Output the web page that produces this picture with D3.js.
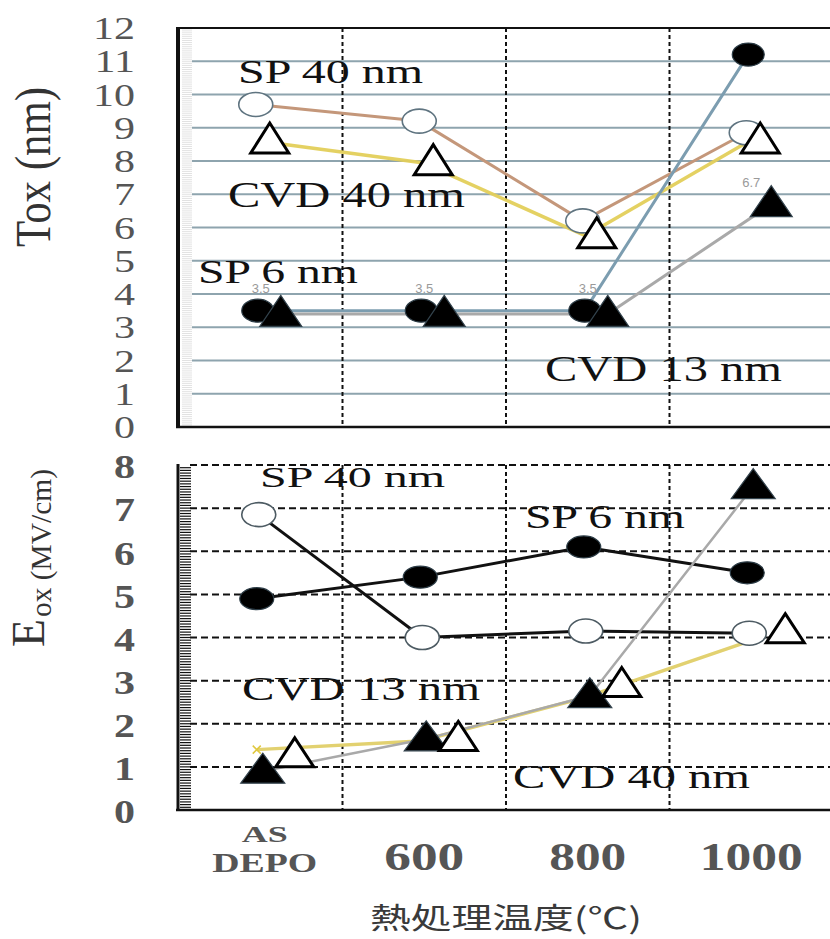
<!DOCTYPE html>
<html><head><meta charset="utf-8">
<script src="https://cdn.jsdelivr.net/npm/d3@7"></script>
<style>html,body{margin:0;padding:0;background:#fff}</style>
</head><body>
<svg id="c" width="830" height="939"></svg>
<script>
// ---------- data ----------
const categories = ["AS DEPO", "600", "800", "1000"];
const xTickLines = [["AS", "DEPO"], ["600"], ["800"], ["1000"]];
const toxTicks = d3.range(0, 13);
const eoxTicks = d3.range(0, 9);

// Tox (nm) – upper panel
const toxSP40  = [9.7, 9.2, 6.2, 8.85];
const toxCVD40 = [8.6, 7.95, 5.75, 8.6];
const toxSP6   = [3.5, 3.5, 3.5, 11.2];
const toxCVD13 = [3.4, 3.4, 3.4, 6.7];
const toxSP6Labels   = ["3.5", "3.5", "3.5", ""];
const toxCVD13Labels = ["", "", "", "6.7"];

// Eox (MV/cm) – lower panel
const eoxSP40  = [6.85, 4.0, 4.15, 4.1];
const eoxSP6   = [4.9, 5.4, 6.1, 5.5];
const eoxCVD13 = [0.9, 1.65, 2.65, 7.5];
const eoxCVD40 = [1.27, 1.65, 2.9, 4.15];
const eoxCVD40Line = [1.4, 1.6, 2.6, 3.9];

// ---------- layout ----------
const svg = d3.select("#c");
const SERIF = "'Liberation Serif','DejaVu Serif',serif";
const SANS = "'Liberation Sans','DejaVu Sans',sans-serif";
const CJK = "'Noto Sans CJK JP','Noto Sans CJK SC',sans-serif";
const L = 179, R = 833, gridL = 192;

const x = d3.scaleBand().domain(categories).range([L, R]).padding(0);
const cx = (c, dx) => x(c) + x.bandwidth() / 2 + (dx || 0);
const yT = d3.scaleLinear().domain([0, 12]).range([427, 28]);
const yB = d3.scaleLinear().domain([0, 8]).range([810, 465]);

// ---------- helpers ----------
function ellipseMarks(g, vals, y, dx, fill, stroke, rx, ry, sw) {
  g.selectAll(null).data(vals).join("ellipse")
    .attr("cx", (d, i) => cx(categories[i], dx)).attr("cy", d => y(d))
    .attr("rx", rx).attr("ry", ry)
    .attr("fill", fill).attr("stroke", stroke).attr("stroke-width", sw);
}
function triMarks(g, vals, y, dx, fill, stroke, w, h, sw) {
  g.selectAll(null).data(vals).join("path")
    .attr("d", (d, i) => {
      const px = cx(categories[i], dx), py = y(d);
      return `M${px},${py - h * 0.6}L${px + w / 2},${py + h * 0.4}L${px - w / 2},${py + h * 0.4}Z`;
    })
    .attr("fill", fill).attr("stroke", stroke).attr("stroke-width", sw).attr("stroke-linejoin", "miter");
}
function seriesLine(g, vals, y, dx, color, w, op) {
  g.append("path").datum(vals)
    .attr("d", d3.line().x((d, i) => cx(categories[i], dx)).y(d => y(d)))
    .attr("fill", "none").attr("stroke", color).attr("stroke-width", w)
    .attr("stroke-opacity", op || 1).attr("stroke-linejoin", "round");
}
function stretched(g, t, px, py, size, len, opt) {
  opt = opt || {};
  return g.append("text").attr("x", px).attr("y", py)
    .attr("font-family", opt.family || SERIF).attr("font-size", size)
    .attr("font-weight", opt.weight || "normal")
    .attr("fill", opt.fill || "#111")
    .attr("text-anchor", opt.anchor || "start")
    .attr("textLength", len).attr("lengthAdjust", opt.adjust || "spacingAndGlyphs")
    .text(t);
}

// ================= TOP PANEL =================
const gTop = svg.append("g");
gTop.append("g").selectAll("line").data(d3.range(0, 12, 0.0625)).join("line")
  .attr("x1", 182).attr("x2", 192).attr("y1", d => yT(d)).attr("y2", d => yT(d))
  .attr("stroke", "#e2e2e2").attr("stroke-width", 1);
gTop.append("g").selectAll("line").data(toxTicks.filter(d => d > 0 && d < 12)).join("line")
  .attr("x1", gridL).attr("x2", R).attr("y1", d => yT(d)).attr("y2", d => yT(d))
  .attr("stroke", "#8ea4ae").attr("stroke-width", 2);
gTop.append("g").selectAll("line").data(categories.slice(1)).join("line")
  .attr("x1", d => x(d)).attr("x2", d => x(d)).attr("y1", yT(12)).attr("y2", yT(0))
  .attr("stroke", "#111").attr("stroke-width", 2).attr("stroke-dasharray", "4,3");
gTop.append("line").attr("x1", L - 3).attr("x2", R).attr("y1", yT(12)).attr("y2", yT(12)).attr("stroke", "#111").attr("stroke-width", 2);
gTop.append("line").attr("x1", L - 3).attr("x2", R).attr("y1", yT(0)).attr("y2", yT(0)).attr("stroke", "#111").attr("stroke-width", 2.5);
gTop.append("line").attr("x1", L - 1).attr("x2", L - 1).attr("y1", yT(12) - 1).attr("y2", yT(0) + 1).attr("stroke", "#111").attr("stroke-width", 4);

const axT = svg.append("g").attr("transform", "translate(135,0)")
  .call(d3.axisLeft(yT).tickValues(toxTicks).tickSize(0).tickPadding(0));
axT.select(".domain").remove();
axT.selectAll("text").attr("font-family", SERIF).attr("font-size", 40).attr("fill", "#555")
  .attr("dy", "0.33em").attr("transform", "scale(1.05,0.8)");

seriesLine(gTop, toxSP40, yT, -5, "#c4977a", 3);
seriesLine(gTop, toxCVD40, yT, -2, "#e3cf5a", 3.5, 0.95);
seriesLine(gTop, toxSP6, yT, -3, "#7c9db0", 3);
seriesLine(gTop, toxCVD13, yT, 20, "#a9a9a9", 3);
ellipseMarks(gTop, toxSP40, yT, -5, "#fff", "#5f7480", 17, 12, 1.6);
triMarks(gTop, toxCVD40, yT, 9, "#fff", "#000", 38, 30, 3);
ellipseMarks(gTop, toxSP6, yT, -3, "#000", "#2c3c46", 16, 11.5, 1.2);
triMarks(gTop, toxCVD13, yT, 20, "#000", "#33434d", 42, 31, 1.2);
gTop.selectAll(null).data(toxSP6Labels).join("text")
  .attr("x", (d, i) => cx(categories[i])).attr("y", (d, i) => yT(toxSP6[i]) - 18)
  .attr("text-anchor", "middle").attr("font-family", SANS).attr("font-size", 13)
  .attr("fill", "#9a9a9a").text(d => d);
gTop.selectAll(null).data(toxCVD13Labels).join("text")
  .attr("x", (d, i) => cx(categories[i])).attr("y", (d, i) => yT(toxCVD13[i]) - 17)
  .attr("text-anchor", "middle").attr("font-family", SANS).attr("font-size", 13)
  .attr("fill", "#9a9a9a").text(d => d);
stretched(gTop, "SP 40 nm", 238, 83, 33, 185);
stretched(gTop, "CVD 40 nm", 228, 207, 36, 237);
stretched(gTop, "SP 6 nm", 198, 283, 34, 160);
stretched(gTop, "CVD 13 nm", 545, 381, 36, 237);

svg.append("text").attr("transform", "translate(50,247) rotate(-90)")
  .attr("font-family", SERIF).attr("font-size", 50).attr("fill", "#333")
  .attr("textLength", 160).attr("lengthAdjust", "spacingAndGlyphs").text("Tox (nm)");

// ================= BOTTOM PANEL =================
const gBot = svg.append("g");
gBot.append("g").selectAll("line").data(d3.range(0, 8, 0.0625)).join("line")
  .attr("x1", 180).attr("x2", 191).attr("y1", d => yB(d)).attr("y2", d => yB(d))
  .attr("stroke", "#111").attr("stroke-width", 1.2);
gBot.append("g").selectAll("line").data(eoxTicks.filter(d => d > 0)).join("line")
  .attr("x1", gridL - 2).attr("x2", R).attr("y1", d => yB(d)).attr("y2", d => yB(d))
  .attr("stroke", "#111").attr("stroke-width", 2).attr("stroke-dasharray", "7,4");
gBot.append("g").selectAll("line").data(categories.slice(1)).join("line")
  .attr("x1", d => x(d)).attr("x2", d => x(d)).attr("y1", yB(8)).attr("y2", yB(0))
  .attr("stroke", "#111").attr("stroke-width", 2).attr("stroke-dasharray", "4,3");
gBot.append("line").attr("x1", L - 3).attr("x2", R).attr("y1", yB(0)).attr("y2", yB(0)).attr("stroke", "#111").attr("stroke-width", 2.5);
gBot.append("line").attr("x1", L - 1).attr("x2", L - 1).attr("y1", yB(8) - 1).attr("y2", yB(0) + 1).attr("stroke", "#111").attr("stroke-width", 3);

const axB = svg.append("g").attr("transform", "translate(135,0)")
  .call(d3.axisLeft(yB).tickValues(eoxTicks).tickSize(0).tickPadding(0));
axB.select(".domain").remove();
axB.selectAll("text").attr("font-family", SERIF).attr("font-weight", "bold").attr("font-size", 42)
  .attr("fill", "#555").attr("dy", "0.38em").attr("transform", "scale(1,0.8)");

seriesLine(gBot, eoxSP40, yB, -2, "#111", 3);
seriesLine(gBot, eoxSP6, yB, -4, "#111", 3);
seriesLine(gBot, eoxCVD40Line, yB, -4, "#e2d170", 3.5);
seriesLine(gBot, eoxCVD13, yB, 2, "#a9a9a9", 2.5);
const xm = cx(categories[0], -4), ym = yB(eoxCVD40Line[0]);
gBot.append("path").attr("d", `M${xm - 4},${ym - 4}L${xm + 4},${ym + 4}M${xm - 4},${ym + 4}L${xm + 4},${ym - 4}`)
  .attr("stroke", "#e0c840").attr("stroke-width", 1.5);
ellipseMarks(gBot, eoxSP40, yB, -2, "#fff", "#4d5b63", 17, 12, 1.6);
ellipseMarks(gBot, eoxSP6, yB, -4, "#000", "#2c3c46", 17, 11, 1.2);
triMarks(gBot, eoxCVD13, yB, 2, "#000", "#33434d", 44, 30, 1.2);
triMarks(gBot, eoxCVD40, yB, 34, "#fff", "#000", 38, 29, 3);

stretched(gBot, "SP 40 nm", 260, 487, 30, 185);
stretched(gBot, "SP 6 nm", 525, 528, 34, 160);
stretched(gBot, "CVD 13 nm", 242, 700, 33, 238);
stretched(gBot, "CVD 40 nm", 513, 788, 34, 237);

svg.append("text").attr("transform", "translate(44,647) rotate(-90)")
  .attr("font-family", SERIF).attr("font-size", 46).attr("fill", "#333")
  .attr("textLength", 28).attr("lengthAdjust", "spacingAndGlyphs").text("E");
svg.append("text").attr("transform", "translate(51,617) rotate(-90)")
  .attr("font-family", SERIF).attr("font-size", 29).attr("fill", "#333")
  .attr("textLength", 148).attr("lengthAdjust", "spacingAndGlyphs").text("ox (MV/cm)");

// ================= X AXIS =================
const xLab = svg.append("g");
const xLens = { "AS": 46, "DEPO": 105, "600": 80, "800": 77, "1000": 103 };
xTickLines.forEach((lines, i) => {
  const c = cx(categories[i]);
  if (lines.length === 2) {
    stretched(xLab, lines[0], c + 4, 842, 24, xLens[lines[0]], { weight: "bold", fill: "#555", anchor: "middle" });
    stretched(xLab, lines[1], c + 4, 872, 27, xLens[lines[1]], { weight: "bold", fill: "#555", anchor: "middle" });
  } else {
    stretched(xLab, lines[0], c, 870, 41, xLens[lines[0]], { weight: "bold", fill: "#555", anchor: "middle" });
  }
});
svg.append("text").attr("x", 370).attr("y", 929)
  .attr("font-family", CJK).attr("font-size", 29).attr("fill", "#3a3a3a")
  .attr("textLength", 272).attr("lengthAdjust", "spacingAndGlyphs").text("熱処理温度(℃)");
</script>
</body></html>
